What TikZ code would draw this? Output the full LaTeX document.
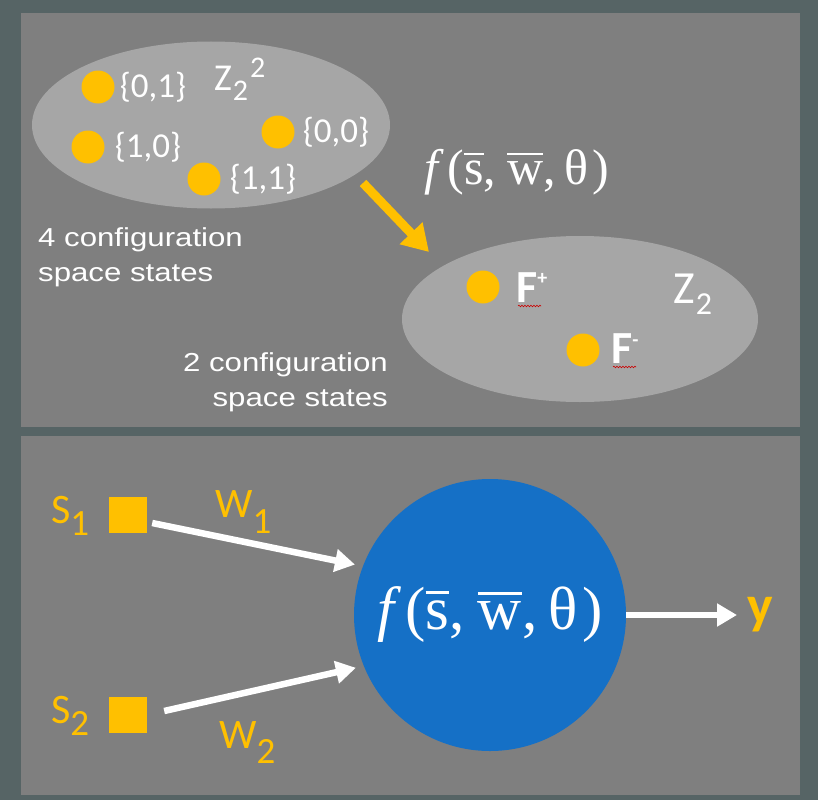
\documentclass[tikz,border=0pt]{standalone}
\usepackage{fontspec}
\setmainfont{Carlito}
\newfontfamily\arialfont{Liberation Sans}[FakeStretch=1.2]
\newfontfamily\timesfont{Liberation Serif}
\usetikzlibrary{arrows.meta,positioning,shapes.geometric,decorations.pathmorphing}

\definecolor{slate}{HTML}{566465}
\definecolor{panelgray}{HTML}{7F7F7F}
\definecolor{zonegray}{HTML}{A6A6A6}
\definecolor{gold}{HTML}{FFC000}
\definecolor{neuronblue}{HTML}{1570C6}

% bar over a letter, as in the vector notation
\newcommand{\barred}[1]{\vbox{\hrule height 0.04em\kern 0.12em\hbox{#1}}}
\newcommand{\fsw}{{\itshape f}\kern0.18em(\barred{s},\kern0.22em\barred{w},\kern0.18em θ\kern0.08em)}
% lowered index digits
\newcommand{\lowdigit}[2][-13pt]{\raisebox{#1}{\fontsize{37}{37}\selectfont #2}}

\begin{document}
\begin{tikzpicture}[x=1pt, y=-1pt,
    zone/.style={ellipse, fill=zonegray, inner sep=0},
    state/.style={circle, fill=gold, minimum size=33pt, inner sep=0},
    statelbl/.style={text=white, font=\fontsize{35}{35}\selectfont, inner sep=0},
    note/.style={text=white, font=\arialfont\fontsize{26}{35}\selectfont, inner sep=0},
    input/.style={fill=gold, minimum width=38pt, minimum height=36pt, inner sep=0},
    goldlbl/.style={text=gold, font=\fontsize{42}{42}\selectfont, inner sep=0},
    wire/.style={white, line width=6.5pt, -{Triangle[length=20pt,width=22pt]}},
    squiggle/.style={red!80!black, line width=0.6pt, decorate,
        decoration={snake, amplitude=0.8pt, segment length=3pt}}]

    \useasboundingbox (0,0) rectangle (818,800);

    % background and the two panels
    \fill[slate] (0,0) rectangle (818,800);
    \fill[panelgray] (21,13) rectangle (800,427);
    \fill[panelgray] (21,436) rectangle (800,795);

    % configuration space Z_2^2
    \node[zone, minimum width=358pt, minimum height=167pt] (pairs) at (211,125) {};
    \node[state] (d01) at (98,87) {};
    \node[state] (d10) at (88,147) {};
    \node[state] (d00) at (278,132) {};
    \node[state] (d11) at (204,179) {};
    \node[statelbl, right=5pt of d01] (l01) {\{0,1\}};
    \node[statelbl, right=10pt of d10] (l10) {\{1,0\}};
    \node[statelbl, right=8pt of d00] (l00) {\{0,0\}};
    \node[statelbl, right=9pt of d11] (l11) {\{1,1\}};
    \node[statelbl, anchor=base west, font=\fontsize{38}{38}\selectfont] (zz) at (214,90)
        {Z\kern1pt\raisebox{-10pt}{\fontsize{30}{30}\selectfont 2}\kern2pt\raisebox{13pt}{\fontsize{30}{30}\selectfont 2}};

    % configuration space Z_2
    \node[zone, minimum width=356pt, minimum height=166pt] (bits) at (580,319) {};
    \node[state] (fp) at (483,287) {};
    \node[state] (fm) at (583,350) {};
    \node[statelbl, anchor=base west, font=\bfseries\fontsize{46}{46}\selectfont] (fplus) at (516,302)
        {F\raisebox{18pt}{\fontsize{20}{20}\selectfont +}};
    \node[statelbl, anchor=base west, font=\bfseries\fontsize{46}{46}\selectfont] (fminus) at (611,363)
        {F\raisebox{17pt}{\fontsize{20}{20}\selectfont -}};
    \draw[squiggle] ([shift={(2,4)}]fplus.base west) -- ++(23,0);
    \draw[squiggle] ([shift={(2,4)}]fminus.base west) -- ++(23,0);
    \node[statelbl, anchor=base west, font=\fontsize{46}{46}\selectfont] (z) at (673,303)
        {Z\kern1pt\raisebox{-11pt}{\fontsize{32}{32}\selectfont 2}};

    % texts of the top panel
    \node[note, anchor=north west, align=left] (n4) at (38,227) {4 configuration\\space states};
    \node[note, anchor=north east, align=right] (n2) at (388,352) {2 configuration\\space states};
    \node[text=white, font=\timesfont\fontsize{50}{50}\selectfont, inner sep=0] (mapf) at (517,172) {\fsw};

    % mapping arrow
    \coordinate (mapA) at (363,183);
    \coordinate (mapB) at (429,252);
    \draw[gold, line width=9pt, -{Triangle[length=26pt,width=30pt]}] (mapA) -- (mapB);

    % neuron of the bottom panel
    \node[circle, fill=neuronblue, minimum size=272pt, inner sep=0, text=white,
        font=\timesfont\fontsize{61}{61}\selectfont] (neuron) at (490,615) {\fsw};
    \node[input] (s1) at (128,515) {};
    \node[input] (s2) at (128,715) {};
    \node[goldlbl, anchor=base west] (s1lbl) at (51,523) {S\lowdigit[-12pt]{1}};
    \node[goldlbl, anchor=base west] (s2lbl) at (51,723) {S\lowdigit[-12pt]{2}};
    \node[goldlbl, anchor=base west] (w1) at (215,517) {W\lowdigit[-16pt]{1}};
    \node[goldlbl, anchor=base west] (w2) at (219,748) {W\lowdigit[-15pt]{2}};
    \node[goldlbl, font=\bfseries\fontsize{54}{54}\selectfont] (yout) at (760,615) {y};

    % weighted inputs and output
    \draw[wire, shorten >=8pt] ([shift={(5,8)}]s1.east) -- (neuron.159);
    \draw[wire, shorten >=8pt] ([shift={(17,-4)}]s2.east) -- (neuron.202);
    \draw[wire, shorten >=10pt] (neuron.east) -- (neuron.east -| yout.west);

\end{tikzpicture}
\end{document}
